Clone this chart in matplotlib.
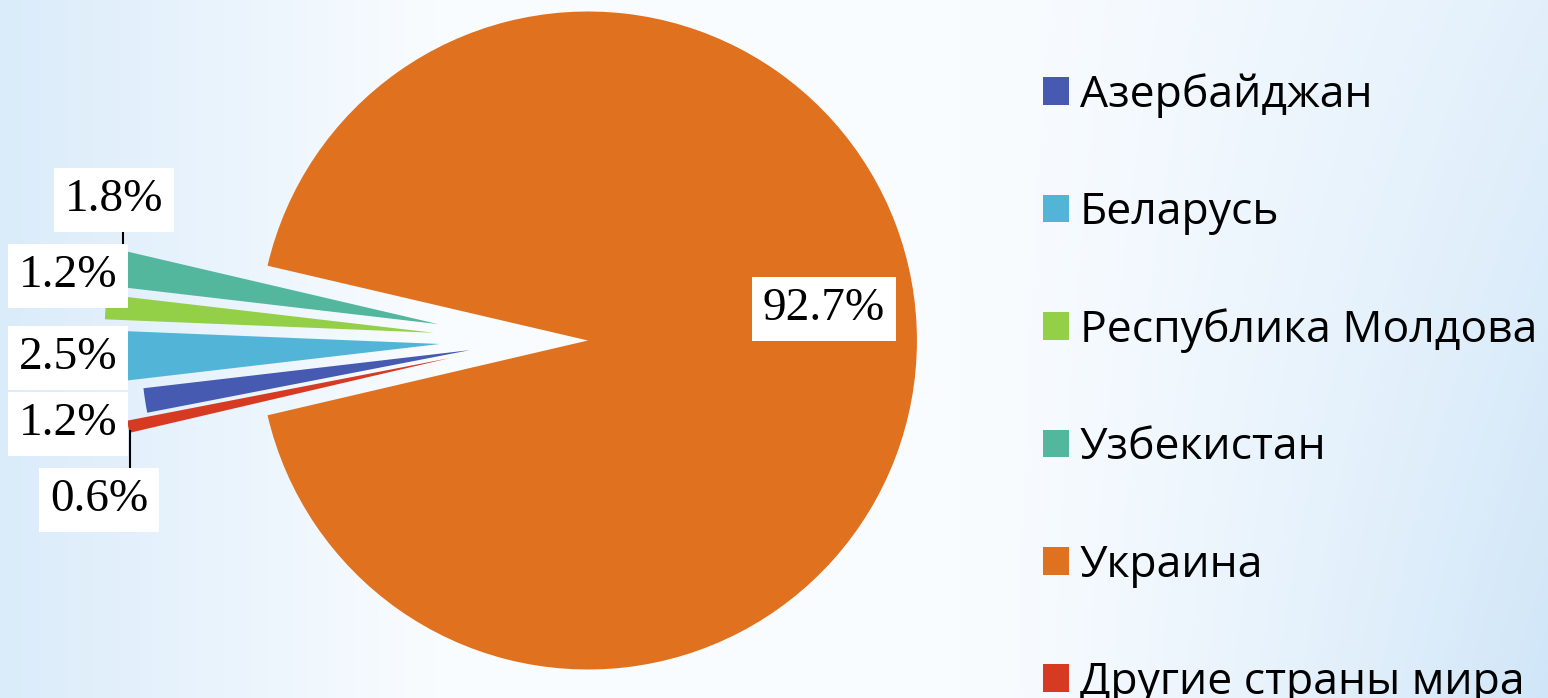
import numpy as np
import matplotlib.pyplot as plt

# Data
countries = ['Азербайджан', 'Беларусь', 'Республика Молдова', 'Узбекистан',
             'Украина', 'Другие страны мира']
shares = [1.2, 2.5, 1.2, 1.8, 92.7, 0.6]
colors = ['#455ab0', '#52b5d8', '#94cf48', '#52b79c', '#e0711e', '#d63a22']
explode = [0.19, 0.28, 0.30, 0.29, 0.17, 0.255]

W, H = 1548, 698
R = 329            # pie radius in pixels
cx, cy = 532, 340.5  # pie centre in pixels (from top-left)


def px(x, y):
    # pixel position -> data coords of the pie axes
    return (x - cx) / R, (cy - y) / R


fig = plt.figure(figsize=(W / 100, H / 100), dpi=100)

# soft blue/white background
bg = fig.add_axes([0, 0, 1, 1], zorder=0)
xx = np.linspace(0, 1, W)[None, :]
yy = np.linspace(0, 1, H)[:, None]
left = np.clip((0.28 - xx) / 0.28, 0, 1) * 0.75
right = np.clip((xx - 0.62) / 0.38, 0, 1) ** 1.3 * (0.55 + 0.45 * yy)
w = np.clip(left + right, 0, 1)
white = np.array([249, 252, 255]) / 255
blue = np.array([208, 230, 248]) / 255
img = white[None, None, :] * (1 - w[..., None]) + blue[None, None, :] * w[..., None]
bg.imshow(img, aspect='auto', extent=[0, 1, 0, 1])
bg.axis('off')

ax = fig.add_axes([0, 0, 1, 1], zorder=1)
ax.patch.set_alpha(0)

small = sum(shares) - shares[4]
start = 180 + small * 3.6 / 2 - shares[5] * 3.6
wedges, _ = ax.pie(shares, colors=colors, explode=explode, startangle=start,
                   counterclock=False, radius=1, wedgeprops=dict(linewidth=0))

ax.set_xlim(-cx / R, (W - cx) / R)
ax.set_ylim(-(H - cy) / R, cy / R)
ax.set_aspect('auto')
ax.axis('off')

# percentage labels
label_pos = [(68, 424), (68, 358), (68, 276), (114, 200), (824, 309), (99, 500)]
for v, (lx, ly) in zip(shares, label_pos):
    ax.text(*px(lx, ly), f'{v:.1f}%', fontsize=34, family='Liberation Serif',
            ha='center', va='center', zorder=5,
            bbox=dict(boxstyle='square,pad=0.22', fc='white', ec='none'))

# leader lines
for (x0, y0), (x1, y1) in [((123, 231), (123, 246)), ((130, 431), (130, 468))]:
    p0, p1 = px(x0, y0), px(x1, y1)
    ax.plot([p0[0], p1[0]], [p0[1], p1[1]], color='black', lw=1.5, zorder=4)

fig.legend(wedges, countries, loc='upper left',
           bbox_to_anchor=(1043 / W, 1 - 73 / H), frameon=False,
           prop=dict(family='Open Sans', size=32),
           handlelength=0.58, handleheight=0.58, handletextpad=0.25,
           labelspacing=1.64, borderpad=0, borderaxespad=0)

fig.savefig('out.png', dpi=100)
